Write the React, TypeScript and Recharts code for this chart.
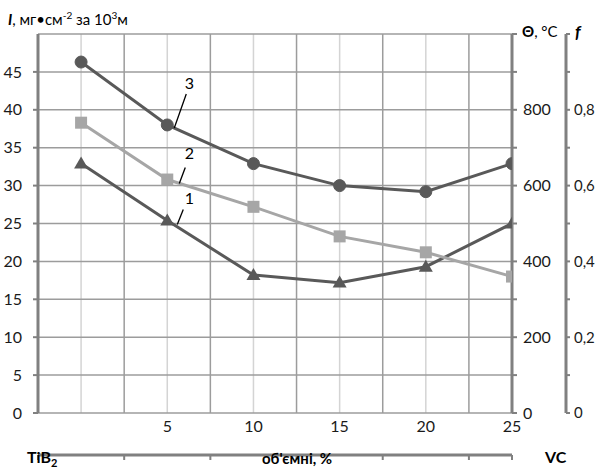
import { LineChart, Line, XAxis, YAxis, CartesianGrid, LabelList } from "recharts";

// composition: pure TiB2 -> VC, vol.%
const X_POS = [0, 1, 2, 3, 4, 5];
const X_LABELS = ["", "5", "10", "15", "20", "25"];
const MAJOR_TICKS = [-0.5, 0.5, 1.5, 2.5, 3.5, 4.5, 5];

// curves 1..3, read against the left axis
const CURVE_1 = [32.9, 25.4, 18.2, 17.2, 19.3, 25.0];
const CURVE_2 = [38.3, 30.8, 27.2, 23.3, 21.2, 18.0];
const CURVE_3 = [46.3, 38.0, 32.9, 30.0, 29.2, 32.9];

const LEFT_TICKS = [0, 5, 10, 15, 20, 25, 30, 35, 40, 45];
const THETA_TICKS = [0, 100, 200, 300, 400, 500, 600, 700, 800, 900, 1000];
const F_TICKS = [0, 0.1, 0.2, 0.3, 0.4, 0.5, 0.6, 0.7, 0.8, 0.9, 1];

const data = X_POS.map((x, i) => ({
  x,
  c1: CURVE_1[i],
  c2: CURVE_2[i],
  c3: CURVE_3[i],
}));

const DARK = "#595959";
const LIGHT = "#a6a6a6";
const AXIS = "#808080";
const FONT = "Lato, 'Open Sans', sans-serif";
const tickStyle = { fontSize: 16, fill: "#1a1a1a" };

const Square = (p: any) => {
  if (p.cx == null || p.cy == null) return null;
  return <rect x={p.cx - 6} y={p.cy - 6} width={12} height={12} fill={LIGHT} />;
};

const Triangle = (p: any) => {
  if (p.cx == null || p.cy == null) return null;
  const { cx, cy } = p;
  return <path d={`M${cx},${cy - 7} L${cx + 7},${cy + 5} L${cx - 7},${cy + 5} Z`} fill={DARK} />;
};

// number tag with a short leader line, placed next to the 2nd point
const tag = (name: string, dx1: number, dy1: number, dx2: number, dy2: number, tx: number, ty: number) =>
  (p: any) => {
    if (p.index !== 1) return null;
    const x = Number(p.x);
    const y = Number(p.y);
    return (
      <g>
        <line x1={x + dx1} y1={y + dy1} x2={x + dx2} y2={y + dy2} stroke="#000" strokeWidth={1.3} />
        <text x={x + tx} y={y + ty} fontSize={16} fill="#000" textAnchor="middle">
          {name}
        </text>
      </g>
    );
  };

const fmtTheta = (v: number) => (v % 200 === 0 && v <= 800 ? String(v) : "");
const fmtF = (v: number) => {
  const t = Math.round(v * 10);
  if (t % 2 !== 0 || t > 8) return "";
  return t === 0 ? "0" : (t / 10).toFixed(1).replace(".", ",");
};

export default function App() {
  return (
    <div style={{ position: "absolute", left: 0, top: 0, width: 596, height: 469, background: "#fff", fontFamily: FONT }}>
      <LineChart
        width={596}
        height={469}
        data={data}
        margin={{ top: 34, right: 0, bottom: 0, left: 0 }}
        style={{ fontFamily: FONT }}
      >
        <CartesianGrid xAxisId="lbl" yAxisId="left" horizontal={false} stroke="#d4d4d4" strokeWidth={1.5} />
        <CartesianGrid xAxisId="major" yAxisId="left" stroke="#9c9c9c" strokeWidth={1.5} />
        <XAxis
          xAxisId="major"
          dataKey="x"
          type="number"
          domain={[-0.5, 5]}
          allowDataOverflow
          ticks={MAJOR_TICKS}
          tickFormatter={() => ""}
          tickSize={5}
          height={14}
          axisLine={{ stroke: AXIS, strokeWidth: 3 }}
          tickLine={{ stroke: AXIS, strokeWidth: 2 }}
        />
        <XAxis
          xAxisId="lbl"
          dataKey="x"
          type="number"
          domain={[-0.5, 5]}
          allowDataOverflow
          ticks={X_POS}
          tickFormatter={(v: number) => X_LABELS[v] ?? ""}
          axisLine={false}
          tickLine={false}
          tickSize={0}
          tickMargin={8}
          height={42}
          tick={tickStyle}
          interval={0}
        />
        <YAxis
          yAxisId="left"
          orientation="left"
          width={38}
          domain={[0, 50]}
          allowDataOverflow
          ticks={LEFT_TICKS}
          tickSize={5}
          tickMargin={11}
          tick={tickStyle}
          axisLine={{ stroke: AXIS, strokeWidth: 3 }}
          tickLine={{ stroke: AXIS, strokeWidth: 2 }}
          interval={0}
        />
        <YAxis
          yAxisId="r1"
          orientation="right"
          width={54}
          type="number"
          domain={[0, 1000]}
          allowDataOverflow
          ticks={THETA_TICKS}
          tickFormatter={fmtTheta}
          tickSize={5}
          tickMargin={6}
          tick={{ ...tickStyle, textAnchor: "start" }}
          axisLine={{ stroke: AXIS, strokeWidth: 3 }}
          tickLine={{ stroke: AXIS, strokeWidth: 2 }}
          interval={0}
        />
        <YAxis
          yAxisId="r2"
          orientation="right"
          width={30}
          type="number"
          domain={[0, 1]}
          allowDataOverflow
          ticks={F_TICKS}
          tickFormatter={fmtF}
          tickSize={4}
          tickMargin={4}
          tick={{ ...tickStyle, fontSize: 15, textAnchor: "start" }}
          axisLine={{ stroke: AXIS, strokeWidth: 3 }}
          tickLine={{ stroke: AXIS, strokeWidth: 2 }}
          interval={0}
        />
        <Line
          xAxisId="lbl"
          yAxisId="left"
          dataKey="c1"
          stroke={DARK}
          strokeWidth={3}
          dot={<Triangle />}
          isAnimationActive={false}
        >
          <LabelList dataKey="c1" content={tag("1", 10, 4, 16, -11, 22, -16)} />
        </Line>
        <Line
          xAxisId="lbl"
          yAxisId="left"
          dataKey="c2"
          stroke={LIGHT}
          strokeWidth={3}
          dot={<Square />}
          isAnimationActive={false}
        >
          <LabelList dataKey="c2" content={tag("2", 12, 4, 18, -12, 22, -21)} />
        </Line>
        <Line
          xAxisId="lbl"
          yAxisId="left"
          dataKey="c3"
          stroke={DARK}
          strokeWidth={3}
          dot={{ r: 6, fill: DARK, stroke: DARK, strokeWidth: 1 }}
          isAnimationActive={false}
        >
          <LabelList dataKey="c3" content={tag("3", 7, 3, 19, -31, 22, -36)} />
        </Line>
      </LineChart>

      <div style={{ position: "absolute", left: 8, top: 9, fontSize: 15, color: "#000", whiteSpace: "nowrap" }}>
        <b><i>I</i></b>, мг•см<sup style={{ fontSize: 10 }}>-2</sup> за 10<sup style={{ fontSize: 10 }}>3</sup>м
      </div>
      <div style={{ position: "absolute", left: 522, top: 22, fontSize: 15, color: "#000", whiteSpace: "nowrap" }}>
        <b>Θ</b>, °C
      </div>
      <div style={{ position: "absolute", left: 575, top: 21, fontSize: 17, color: "#000", fontWeight: 700, fontStyle: "italic" }}>
        f
      </div>
      <div style={{ position: "absolute", left: 27, top: 448, fontSize: 16, lineHeight: "18px", color: "#000", fontWeight: 700, whiteSpace: "nowrap" }}>
        TiB<span style={{ fontSize: 11, position: "relative", top: 4 }}>2</span>
      </div>
      <div style={{ position: "absolute", left: 262, top: 449, fontSize: 15, lineHeight: "18px", color: "#000", fontWeight: 700, whiteSpace: "nowrap" }}>
        об'ємні, %
      </div>
      <div style={{ position: "absolute", left: 545, top: 448, fontSize: 16, lineHeight: "18px", color: "#000", fontWeight: 700 }}>
        VC
      </div>
    </div>
  );
}
